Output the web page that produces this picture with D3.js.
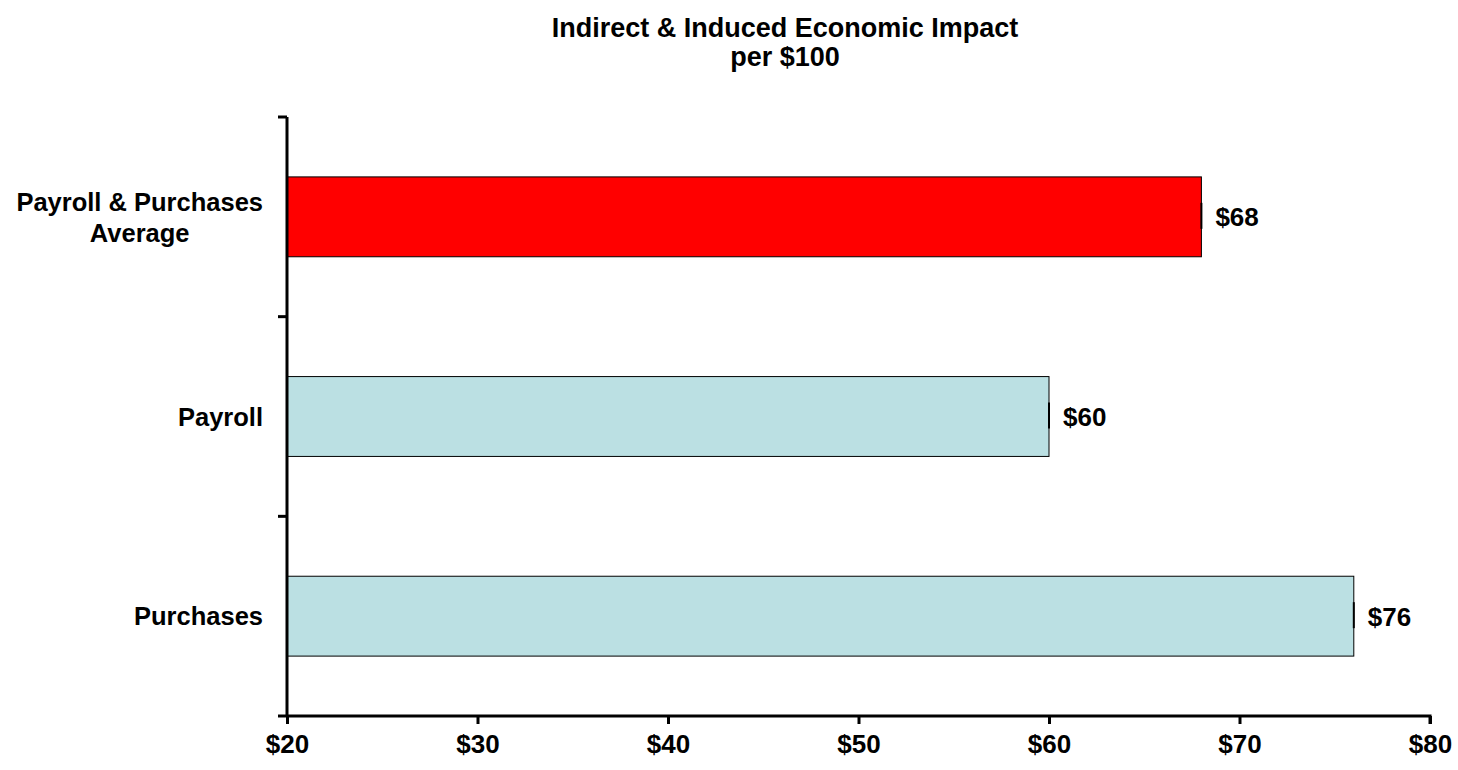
<!DOCTYPE html>
<html>
<head>
<meta charset="utf-8">
<script src="https://cdn.jsdelivr.net/npm/d3@7"></script>
<style>
  body { margin: 0; background: #fff; }
  text { font-family: "Liberation Sans", Arial, sans-serif; font-weight: bold; fill: #000; }
</style>
</head>
<body>
<div id="chart"></div>
<script>
// chart data
var categories = ["Payroll & Purchases\nAverage", "Payroll", "Purchases"];
var values = [68, 60, 76];
var barColors = ["#ff0000", "#bbe0e3", "#bbe0e3"];
var xTicks = [20, 30, 40, 50, 60, 70, 80];
var titleLines = ["Indirect & Induced Economic Impact", "per $100"];

var width = 1458, height = 770;
var margin = {top: 117, right: 28, bottom: 54, left: 287};

var svg = d3.select("#chart").append("svg")
  .attr("width", width)
  .attr("height", height);

var x = d3.scaleLinear()
  .domain([20, 80])
  .range([margin.left, width - margin.right]);

var y = d3.scaleBand()
  .domain(categories)
  .range([margin.top, height - margin.bottom])
  .paddingInner(0.6)
  .paddingOuter(0.3);

// title
svg.append("g").selectAll("text")
  .data(titleLines)
  .enter().append("text")
  .attr("x", 785)
  .attr("y", function(d, i) { return 37 + i * 29; })
  .attr("text-anchor", "middle")
  .style("font-size", "27px")
  .text(function(d) { return d; });

// bars
svg.append("g").selectAll("rect")
  .data(values)
  .enter().append("rect")
  .attr("x", x(20))
  .attr("y", function(d, i) { return y(categories[i]); })
  .attr("width", function(d) { return x(d) - x(20); })
  .attr("height", y.bandwidth())
  .attr("fill", function(d, i) { return barColors[i]; })
  .attr("stroke", "#000")
  .attr("stroke-width", 1);

// little marks at the bar ends
svg.append("g").selectAll("line")
  .data(values)
  .enter().append("line")
  .attr("x1", function(d) { return x(d); })
  .attr("x2", function(d) { return x(d); })
  .attr("y1", function(d, i) { return y(categories[i]) + y.bandwidth() / 2 - 14; })
  .attr("y2", function(d, i) { return y(categories[i]) + y.bandwidth() / 2 + 12; })
  .attr("stroke", "#000")
  .attr("stroke-width", 2);

// value labels
svg.append("g").selectAll("text")
  .data(values)
  .enter().append("text")
  .attr("x", function(d) { return x(d) + 14; })
  .attr("y", function(d, i) { return y(categories[i]) + y.bandwidth() / 2; })
  .attr("dy", "0.36em")
  .style("font-size", "26px")
  .text(function(d) { return "$" + d; });

// x axis
var xAxis = svg.append("g")
  .attr("transform", "translate(0," + (height - margin.bottom) + ")")
  .call(d3.axisBottom(x).tickValues(xTicks).tickSize(8).tickPadding(11)
    .tickFormat(function(d) { return "$" + d; }));
xAxis.select(".domain").attr("stroke", "#000").attr("stroke-width", 3)
  .attr("d", "M" + x(20) + ",0H" + x(80) + "V8");
xAxis.selectAll(".tick line").attr("stroke-width", 3);
xAxis.selectAll(".tick text")
  .style("font-size", "26px")
  .style("font-family", "'Liberation Sans', Arial, sans-serif")
  .style("font-weight", "bold");

// y axis: line with ticks at band boundaries
var yTop = margin.top, yBottom = height - margin.bottom;
var step = (yBottom - yTop) / categories.length;
var yAxis = svg.append("g");
yAxis.append("line")
  .attr("x1", x(20)).attr("x2", x(20))
  .attr("y1", yTop).attr("y2", yBottom)
  .attr("stroke", "#000").attr("stroke-width", 3);
yAxis.selectAll(".ytick")
  .data(d3.range(categories.length + 1))
  .enter().append("line")
  .attr("class", "ytick")
  .attr("x1", x(20) - 9).attr("x2", x(20))
  .attr("y1", function(d) { return yTop + d * step; })
  .attr("y2", function(d) { return yTop + d * step; })
  .attr("stroke", "#000").attr("stroke-width", 3);

// category labels (multi-line labels centred on themselves, right edge fixed)
var labelRight = 263;
categories.forEach(function(c) {
  var lines = c.split("\n");
  var cy = y(c) + y.bandwidth() / 2;
  var g = svg.append("g");
  var t = g.selectAll("text")
    .data(lines)
    .enter().append("text")
    .attr("y", function(d, i) { return cy + (i - (lines.length - 1) / 2) * 31; })
    .attr("dy", "0.36em")
    .style("font-size", "25.5px")
    .text(function(d) { return d; });
  var maxW = d3.max(t.nodes(), function(n) { return n.getComputedTextLength(); });
  t.attr("text-anchor", "middle").attr("x", labelRight - maxW / 2);
});
</script>
</body>
</html>
